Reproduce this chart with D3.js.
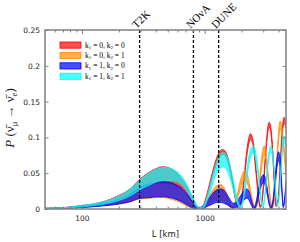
<!DOCTYPE html>
<html>
<head>
<meta charset="utf-8">
<script src="https://cdn.jsdelivr.net/npm/d3@7"></script>
<style>
  body { margin: 0; background: #fff; }
  text { fill: #222; }
</style>
</head>
<body>
<script>
// baseline distances (km) and band edges
const redL  = [50,66,100,140,200,246,297,359,409,458,522,596,667,732,789,835,867,900,952,1008,1066,1128,1193,1262,1336,1405,1495,1581,1673,1770,1838,1908,1981,2096,2217,2368,2482,2626,2778,2831,2939,3051,3168,3289,3352,3415,3546,3682,3823,3969,4121,4279,4443,4600];
const redHi = [0.001,0.0015,0.005,0.009,0.019,0.028,0.042,0.052,0.057,0.059,0.057,0.050,0.040,0.028,0.016,0.008,0.004,0.002,0.003,0.012,0.027,0.044,0.060,0.073,0.081,0.083,0.079,0.066,0.045,0.020,0.006,0.003,0.010,0.045,0.085,0.105,0.095,0.055,0.012,0.004,0.015,0.050,0.090,0.117,0.121,0.119,0.095,0.045,0.006,0.015,0.060,0.110,0.128,0.120];
const redLo = [0.0005,0.001,0.004,0.007,0.014,0.020,0.030,0.034,0.036,0.036,0.035,0.033,0.027,0.019,0.010,0.004,0.001,0.0005,0.001,0.008,0.021,0.037,0.052,0.065,0.073,0.076,0.072,0.059,0.039,0.015,0.003,0.001,0.006,0.038,0.077,0.097,0.088,0.048,0.008,0.002,0.010,0.042,0.082,0.109,0.114,0.112,0.088,0.039,0.003,0.010,0.052,0.102,0.120,0.113];

const orangeL  = [50,66,100,140,200,246,297,359,409,458,522,596,667,732,789,835,867,900,952,1008,1066,1128,1193,1262,1361,1440,1523,1612,1673,1737,1838,1945,2057,2136,2217,2346,2482,2577,2676,2778,2884,2995,3051,3139,3289,3415,3546,3682,3823,3969,4121,4279,4443,4600];
const orangeHi = [0.001,0.0015,0.004,0.007,0.013,0.019,0.029,0.034,0.036,0.037,0.036,0.032,0.026,0.018,0.010,0.005,0.002,0.001,0.003,0.008,0.015,0.023,0.029,0.033,0.034,0.030,0.020,0.008,0.003,0.006,0.020,0.038,0.051,0.054,0.050,0.030,0.008,0.002,0.010,0.035,0.065,0.085,0.088,0.083,0.050,0.018,0.003,0.015,0.055,0.100,0.123,0.112,0.085,0.055];
const orangeLo = [0.0005,0.0008,0.002,0.004,0.007,0.010,0.014,0.015,0.016,0.016,0.014,0.011,0.007,0.003,0.001,0.0003,0.0002,0.0002,0.0005,0.003,0.006,0.009,0.011,0.012,0.012,0.011,0.007,0.003,0.001,0.003,0.013,0.027,0.038,0.040,0.037,0.021,0.004,0.0005,0.006,0.026,0.053,0.072,0.076,0.071,0.040,0.012,0.001,0.010,0.045,0.088,0.112,0.101,0.075,0.046];

const blueL  = [50,66,100,140,200,246,297,359,409,458,522,596,667,732,789,835,867,900,952,1008,1066,1128,1193,1262,1361,1440,1523,1612,1704,1804,1908,2019,2136,2217,2302,2390,2482,2529,2626,2727,2831,2939,3012,3110,3228,3352,3480,3614,3752,3895,3992,4121,4279,4361,4443,4600];
const blueHi = [0.001,0.0015,0.004,0.007,0.013,0.020,0.030,0.035,0.037,0.038,0.037,0.033,0.027,0.019,0.011,0.006,0.003,0.002,0.003,0.007,0.013,0.019,0.024,0.027,0.028,0.026,0.020,0.013,0.008,0.009,0.015,0.022,0.027,0.028,0.024,0.014,0.005,0.003,0.010,0.025,0.038,0.046,0.048,0.044,0.030,0.012,0.003,0.015,0.045,0.072,0.080,0.070,0.025,0.005,0.010,0.040];
const blueLo = [0.0005,0.0008,0.002,0.004,0.007,0.010,0.015,0.016,0.017,0.017,0.016,0.013,0.009,0.005,0.002,0.0005,0.0002,0.0002,0.0005,0.002,0.004,0.006,0.008,0.009,0.009,0.008,0.006,0.003,0.001,0.002,0.005,0.010,0.014,0.015,0.012,0.006,0.001,0.0005,0.004,0.015,0.027,0.035,0.037,0.033,0.021,0.006,0.0005,0.009,0.035,0.060,0.068,0.059,0.018,0.002,0.006,0.032];

const cyanL  = [50,66,100,140,200,246,297,359,409,458,522,596,667,732,789,835,867,900,952,1008,1066,1128,1193,1262,1336,1413,1495,1581,1673,1770,1873,1945,2019,2136,2259,2390,2482,2577,2727,2884,2967,3051,3168,3289,3448,3546,3682,3823,3895,3969,4121,4279,4402,4527,4600];
const cyanHi = [0.001,0.0015,0.005,0.009,0.018,0.028,0.041,0.051,0.056,0.058,0.057,0.052,0.043,0.031,0.019,0.010,0.005,0.002,0.002,0.009,0.022,0.038,0.054,0.067,0.076,0.079,0.076,0.066,0.048,0.028,0.010,0.004,0.008,0.035,0.068,0.085,0.088,0.083,0.055,0.015,0.005,0.012,0.040,0.070,0.088,0.084,0.060,0.020,0.008,0.010,0.040,0.085,0.102,0.100,0.096];
const cyanLo = [0.0005,0.001,0.003,0.006,0.012,0.018,0.027,0.034,0.038,0.040,0.040,0.038,0.032,0.023,0.013,0.006,0.002,0.0005,0.001,0.005,0.015,0.028,0.041,0.051,0.057,0.059,0.056,0.047,0.033,0.017,0.005,0.001,0.004,0.026,0.056,0.074,0.078,0.073,0.046,0.010,0.002,0.008,0.033,0.062,0.080,0.076,0.052,0.014,0.004,0.006,0.032,0.076,0.093,0.091,0.087];

const seriesNames = ["k1=0,k2=0", "k1=0,k2=1", "k1=1,k2=0", "k1=1,k2=1"];
const legendK1 = ["0", "0", "1", "1"];
const legendK2 = ["0", "1", "0", "1"];
const seriesColors = ["#ff0000", "#ff8c00", "#0000ff", "#00ffff"];

const experiments = ["T2K", "NOνA", "DUNE"];
const experimentL = [295, 810, 1300];

const yTicks = [0, 0.05, 0.1, 0.15, 0.2, 0.25];
const xMajor = [100, 1000];

const W = 300, H = 242;
const mLeft = 45, mRight = 286, mTop = 30, mBottom = 209;

const svg = d3.select("body").append("svg").attr("width", W).attr("height", H);

const x = d3.scaleLog().domain([50, 4600]).range([mLeft, mRight]);
const y = d3.scaleLinear().domain([0, 0.25]).range([mBottom, mTop]);

svg.append("clipPath").attr("id", "plot")
  .append("rect").attr("x", mLeft).attr("y", mTop)
  .attr("width", mRight - mLeft).attr("height", mBottom - mTop);

const bands = [
  {L: redL, lo: redLo, hi: redHi},
  {L: orangeL, lo: orangeLo, hi: orangeHi},
  {L: blueL, lo: blueLo, hi: blueHi},
  {L: cyanL, lo: cyanLo, hi: cyanHi}
];

const area = d3.area()
  .x(d => x(d.L))
  .y0(d => y(d.lo))
  .y1(d => y(d.hi))
  .curve(d3.curveMonotoneX);

const edge = d3.line().x(d => x(d[0])).y(d => y(d[1])).curve(d3.curveMonotoneX);

const g = svg.append("g").attr("clip-path", "url(#plot)");
bands.forEach((b, i) => {
  const pts = b.L.map((L, j) => ({L, lo: b.lo[j], hi: b.hi[j]}));
  g.append("path").attr("d", area(pts))
    .attr("fill", seriesColors[i]).attr("fill-opacity", 0.7);
  g.append("path").attr("d", edge(b.L.map((L, j) => [L, b.hi[j]])))
    .attr("fill", "none").attr("stroke", seriesColors[i]).attr("stroke-width", 0.8);
  g.append("path").attr("d", edge(b.L.map((L, j) => [L, b.lo[j]])))
    .attr("fill", "none").attr("stroke", seriesColors[i]).attr("stroke-width", 0.8);
});

// experiment baselines
experimentL.forEach((L, i) => {
  svg.append("line")
    .attr("x1", x(L)).attr("x2", x(L)).attr("y1", mTop).attr("y2", mBottom)
    .attr("stroke", "#000").attr("stroke-width", 1.3).attr("stroke-dasharray", "3,2");
  svg.append("text")
    .attr("transform", `translate(${x(L) - 3},${mTop - 1}) rotate(-45)`)
    .attr("font-family", "Liberation Serif, serif").attr("font-size", 11)
    .style("fill", "#000")
    .text(experiments[i]);
});

// axes
const minor = x.ticks().filter(v => !xMajor.includes(v));
const axisColor = "#808080";
function styleAxis(sel) {
  sel.select(".domain").remove();
  sel.selectAll("line").attr("stroke", axisColor);
  sel.selectAll("text").attr("font-family", "DejaVu Sans, sans-serif").attr("font-size", 7.5).style("fill", "#222");
}
svg.append("g").attr("transform", `translate(0,${mBottom})`)
  .call(d3.axisBottom(x).tickValues(minor).tickSize(-2.5).tickFormat("")).call(styleAxis);
svg.append("g").attr("transform", `translate(0,${mBottom})`)
  .call(d3.axisBottom(x).tickValues(xMajor).tickSize(-4).tickPadding(7).tickFormat(d3.format("d"))).call(styleAxis);
svg.append("g").attr("transform", `translate(0,${mTop})`)
  .call(d3.axisTop(x).tickValues(minor).tickSize(-2.5).tickFormat("")).call(styleAxis);
svg.append("g").attr("transform", `translate(0,${mTop})`)
  .call(d3.axisTop(x).tickValues(xMajor).tickSize(-4).tickFormat("")).call(styleAxis);
svg.append("g").attr("transform", `translate(${mLeft},0)`)
  .call(d3.axisLeft(y).tickValues(yTicks).tickSize(-3.5).tickPadding(5).tickFormat(d => d === 0 ? "0" : String(d))).call(styleAxis);
svg.append("g").attr("transform", `translate(${mRight},0)`)
  .call(d3.axisRight(y).tickValues(yTicks).tickSize(-3.5).tickFormat("")).call(styleAxis);

svg.append("rect").attr("x", mLeft).attr("y", mTop)
  .attr("width", mRight - mLeft).attr("height", mBottom - mTop)
  .attr("fill", "none").attr("stroke", axisColor).attr("stroke-width", 1.5);

// axis titles
svg.append("text").attr("x", (mLeft + mRight) / 2).attr("y", 237)
  .attr("text-anchor", "middle").attr("font-family", "DejaVu Sans, sans-serif").attr("font-size", 8.5)
  .text("L [km]");

const yl = svg.append("text")
  .attr("transform", "translate(14,118) rotate(-90)")
  .attr("text-anchor", "middle").attr("font-family", "Liberation Serif, serif").attr("font-size", 13);
yl.append("tspan").attr("font-style", "italic").text("P");
yl.append("tspan").text(" (ν\u0304");
yl.append("tspan").attr("font-size", 8.5).attr("dy", 3).text("μ");
yl.append("tspan").attr("dy", -3).text(" → ν\u0304");
yl.append("tspan").attr("font-size", 8.5).attr("dy", 3).text("e");
yl.append("tspan").attr("dy", -3).text(")");

// legend
const legend = svg.append("g").attr("transform", "translate(60,42)");
seriesNames.forEach((name, i) => {
  const row = legend.append("g").attr("transform", `translate(0,${i * 10.4})`);
  row.append("rect").attr("width", 21).attr("height", 6.2)
    .attr("fill", seriesColors[i]).attr("fill-opacity", 0.7)
    .attr("stroke", seriesColors[i]).attr("stroke-width", 0.8);
  const t = row.append("text").attr("x", 25).attr("y", 5.5)
    .attr("font-family", "Liberation Serif, serif").attr("font-size", 7.5).style("fill", "#000");
  t.append("tspan").text("k");
  t.append("tspan").attr("font-size", 5).attr("dy", 1.5).text("1");
  t.append("tspan").attr("dy", -1.5).text(" = " + legendK1[i] + ", k");
  t.append("tspan").attr("font-size", 5).attr("dy", 1.5).text("2");
  t.append("tspan").attr("dy", -1.5).text(" = " + legendK2[i]);
});
</script>
</body>
</html>
